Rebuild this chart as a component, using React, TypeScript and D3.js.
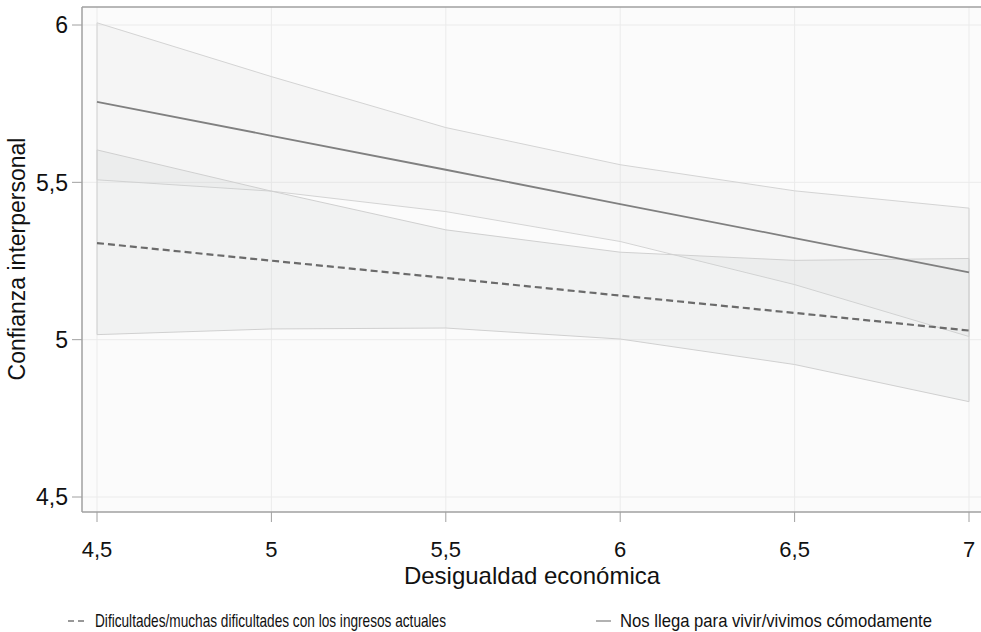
import React from "react";
import * as d3 from "d3";

const xValues = [4.5, 5, 5.5, 6, 6.5, 7];
// Dificultades (dashed)
const dashedFit = [5.307, 5.251, 5.196, 5.140, 5.085, 5.029];
const dashedUpper = [5.603, 5.472, 5.349, 5.278, 5.252, 5.258];
const dashedLower = [5.016, 5.034, 5.037, 5.002, 4.921, 4.803];
// Nos llega (solid)
const solidFit = [5.756, 5.648, 5.540, 5.431, 5.323, 5.214];
const solidUpper = [6.007, 5.836, 5.674, 5.556, 5.473, 5.418];
const solidLower = [5.508, 5.472, 5.407, 5.312, 5.175, 5.010];

const xTicks = [4.5, 5, 5.5, 6, 6.5, 7];
const yTicks = [4.5, 5, 5.5, 6];
const legendLabels = [
  "Dificultades/muchas dificultades con los ingresos actuales",
  "Nos llega para vivir/vivimos cómodamente",
];
const xTitle = "Desigualdad económica";
const yTitle = "Confianza interpersonal";

const W = 981;
const H = 632;
const left = 82, right = 981, top = 7, bottom = 512;
const font = "'Liberation Sans', Arial, Helvetica, sans-serif";
const fmt = (v: number) => String(v).replace(".", ",");

export default function App() {
  const x = d3.scaleLinear().domain([4.5, 7]).range([97, 969]);
  const y = d3.scaleLinear().domain([4.5, 6]).range([497, 25]);

  const band = (up: number[], lo: number[]) => {
    const pts: [number, number][] = [];
    xValues.forEach((v, i) => pts.push([x(v), y(up[i])]));
    for (let i = xValues.length - 1; i >= 0; i--) pts.push([x(xValues[i]), y(lo[i])]);
    return "M" + pts.map((p) => p.join(",")).join("L") + "Z";
  };

  const line = d3
    .line<number>()
    .x((_, i) => x(xValues[i]))
    .y((d) => y(d));

  return (
    <div style={{ position: "fixed", left: 0, top: 0, width: W, height: H, background: "#fff" }}>
      <svg width={W} height={H} style={{ display: "block" }}>
        <rect x={left} y={top} width={right - left} height={bottom - top} fill="#fbfbfb" />
        {/* grid */}
        {xTicks.map((t) => (
          <line key={"gx" + t} x1={x(t)} x2={x(t)} y1={top} y2={bottom} stroke="#ebebeb" strokeWidth={1} />
        ))}
        {yTicks.map((t) => (
          <line key={"gy" + t} x1={left} x2={right} y1={y(t)} y2={y(t)} stroke="#ebebeb" strokeWidth={1} />
        ))}
        {/* bands */}
        <path d={band(solidUpper, solidLower)} fill="rgb(200,200,200)" fillOpacity={0.1} stroke="#d4d4d4" strokeWidth={1} />
        <path d={band(dashedUpper, dashedLower)} fill="rgb(195,200,200)" fillOpacity={0.17} stroke="#d0d0d0" strokeWidth={1} />
        {/* lines */}
        <path d={line(solidFit) || ""} fill="none" stroke="#808080" strokeWidth={1.8} />
        <path d={line(dashedFit) || ""} fill="none" stroke="#6b6b6b" strokeWidth={2.2} strokeDasharray="7,4" />
        {/* frame */}
        <line x1={left} x2={right} y1={top} y2={top} stroke="#a0a0a0" strokeWidth={1.5} />
        <line x1={left} x2={left} y1={top} y2={bottom} stroke="#a0a0a0" strokeWidth={1.5} />
        <line x1={left} x2={right} y1={bottom} y2={bottom} stroke="#a0a0a0" strokeWidth={1.5} />
        {/* y ticks */}
        {yTicks.map((t) => (
          <g key={"yt" + t}>
            <line x1={72} x2={left} y1={y(t)} y2={y(t)} stroke="#a0a0a0" strokeWidth={1} />
            <text x={68} y={y(t)} dy="0.36em" textAnchor="end" fontFamily={font} fontSize={23} fill="#111">
              {fmt(t)}
            </text>
          </g>
        ))}
        {/* x ticks */}
        {xTicks.map((t) => (
          <g key={"xt" + t}>
            <line x1={x(t)} x2={x(t)} y1={bottom} y2={bottom + 10} stroke="#a0a0a0" strokeWidth={1} />
            <text x={x(t)} y={557} textAnchor="middle" fontFamily={font} fontSize={22} fill="#111">
              {fmt(t)}
            </text>
          </g>
        ))}
        <text x={532} y={584} textAnchor="middle" fontFamily={font} fontSize={24} fill="#111">
          {xTitle}
        </text>
        <text
          transform={`translate(25,259) rotate(-90)`}
          textAnchor="middle"
          fontFamily={font}
          fontSize={23}
          fill="#111"
        >
          {yTitle}
        </text>
        {/* legend */}
        <line x1={68} x2={87} y1={621} y2={621} stroke="#777" strokeWidth={1.5} strokeDasharray="6,4" />
        <text x={95} y={627} fontFamily={font} fontSize={18.5} fill="#111" textLength={351} lengthAdjust="spacingAndGlyphs">
          {legendLabels[0]}
        </text>
        <line x1={596} x2={611} y1={621} y2={621} stroke="#999" strokeWidth={1.5} />
        <text x={620} y={627} fontFamily={font} fontSize={18.5} fill="#111" textLength={312} lengthAdjust="spacingAndGlyphs">
          {legendLabels[1]}
        </text>
      </svg>
    </div>
  );
}
